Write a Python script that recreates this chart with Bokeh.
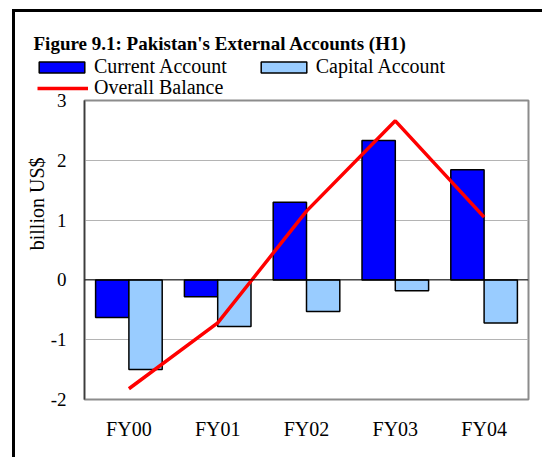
from bokeh.plotting import figure
from bokeh.models import (FactorRange, Range1d, FixedTicker, Span, Legend,
                          LegendItem, Title, Label, ColumnDataSource)
from bokeh.transform import dodge
from bokeh.embed import file_html
from bokeh.resources import INLINE

# ---- data ----
categories = ["FY00", "FY01", "FY02", "FY03", "FY04"]
current_account = [-0.63, -0.28, 1.30, 2.33, 1.84]
capital_account = [-1.50, -0.78, -0.53, -0.18, -0.72]
overall_balance = [-1.82, -0.72, 1.15, 2.66, 1.05]
y_ticks = [-2, -1, 0, 1, 2, 3]
y_tick_labels = ["-2", "-1", "0", "1", "2", "3"]

SERIF = "Liberation Serif"
CUR_COLOR = "#0000FF"
CAP_COLOR = "#99CCFF"
BAL_COLOR = "#FF0000"

W = 530
HEAD_H = 88
MAIN_H = 375

# ---------------- header: title + legend ----------------
head = figure(width=W, height=HEAD_H, x_range=Range1d(0, W),
              y_range=Range1d(0, HEAD_H), output_backend="svg",
              toolbar_location=None, x_axis_location=None,
              y_axis_location=None, min_border=0,
              styles={"margin-left": "12px", "margin-top": "9px",
                      "border-left": "3px solid black",
                      "border-top": "3px solid black"})
head.outline_line_color = None
head.grid.grid_line_color = None
head.background_fill_color = "white"
head.border_fill_color = "white"

head.add_layout(Label(x=18, y=57,
                      text="Figure 9.1: Pakistan's External Accounts (H1)",
                      text_font=SERIF, text_font_style="bold",
                      text_font_size="19px", text_baseline="alphabetic",
                      text_color="black"))

# legend proxies (no visible marks: NaN positions)
proxy = ColumnDataSource(dict(x=[float("nan")], top=[float("nan")],
                              y=[float("nan")]))
h_cur = head.vbar(x="x", top="top", width=1, source=proxy,
                  fill_color=CUR_COLOR, line_color="black", line_width=1.5)
h_cap = head.vbar(x="x", top="top", width=1, source=proxy,
                  fill_color=CAP_COLOR, line_color="black", line_width=1.5)
h_bal = head.line(x="x", y="y", source=proxy, line_color=BAL_COLOR,
                  line_width=3.5)


def style_leg(leg, glyph_w, glyph_h, standoff):
    leg.padding = 0
    leg.margin = 0
    leg.border_line_alpha = 0
    leg.background_fill_alpha = 0
    leg.glyph_width = glyph_w
    leg.glyph_height = glyph_h
    leg.label_standoff = standoff
    leg.label_text_font = SERIF
    leg.label_text_font_size = "20px"
    leg.label_text_color = "black"
    leg.label_height = 16


leg1 = Legend(items=[LegendItem(label="Current Account", renderers=[h_cur]),
                     LegendItem(label="Capital Account", renderers=[h_cap])],
              orientation="horizontal", location=(18, 22), spacing=28)
style_leg(leg1, 57, 14, 4)
leg2 = Legend(items=[LegendItem(label="Overall Balance", renderers=[h_bal])],
              location=(22, 1))
style_leg(leg2, 51, 12, 6)
head.add_layout(leg1)
head.add_layout(leg2)

# ---------------- main chart ----------------
src = ColumnDataSource(dict(cat=categories, cur=current_account,
                            cap=capital_account, bal=overall_balance))

p = figure(width=W, height=MAIN_H, x_range=FactorRange(*categories),
           y_range=Range1d(-2, 3), output_backend="svg", toolbar_location=None,
           min_border_left=69, min_border_right=17, min_border_top=18,
           min_border_bottom=58,
           styles={"margin-left": "12px", "margin-top": "-15px",
                   "border-left": "3px solid black"})
p.x_range.range_padding = 0
p.background_fill_color = "white"
p.border_fill_color = "white"
p.border_fill_alpha = 0
p.outline_line_color = "#8c8c8c"
p.outline_line_width = 2

bw = 0.375
p.vbar(x=dodge("cat", -bw / 2, range=p.x_range), top="cur", bottom=0,
       width=bw, source=src, fill_color=CUR_COLOR, line_color="black",
       line_width=1.5)
p.vbar(x=dodge("cat", bw / 2, range=p.x_range), top="cap", bottom=0,
       width=bw, source=src, fill_color=CAP_COLOR, line_color="black",
       line_width=1.5)
p.line(x="cat", y="bal", source=src, line_color=BAL_COLOR, line_width=3.5)

p.add_layout(Span(location=0, dimension="width", line_color="black",
                  line_width=1))

p.xgrid.grid_line_color = None
p.ygrid.grid_line_color = "#b4b4b4"
p.ygrid.grid_line_width = 1
p.yaxis.ticker = FixedTicker(ticks=y_ticks)
p.yaxis.major_label_overrides = dict(zip(y_ticks, y_tick_labels))
p.yaxis.major_tick_line_color = None
p.yaxis.minor_tick_line_color = None
p.yaxis.axis_line_color = "#3c3c3c"
p.yaxis.axis_line_width = 1.5
p.yaxis.major_label_text_font = SERIF
p.yaxis.major_label_text_font_size = "19px"
p.yaxis.major_label_text_color = "black"
p.yaxis.major_label_standoff = 12

p.xaxis.axis_line_color = None
p.xaxis.major_tick_line_color = None
p.xaxis.minor_tick_line_color = None
p.xaxis.major_label_text_font = SERIF
p.xaxis.major_label_text_font_size = "20px"
p.xaxis.major_label_text_color = "black"
p.xaxis.major_label_standoff = 12

p.add_layout(Title(text="billion US$", align="right", offset=57,
                   text_font=SERIF, text_font_size="20px",
                   text_font_style="normal", text_color="black",
                   standoff=0), "left")

open("out.html", "w").write(file_html([head, p], INLINE))
